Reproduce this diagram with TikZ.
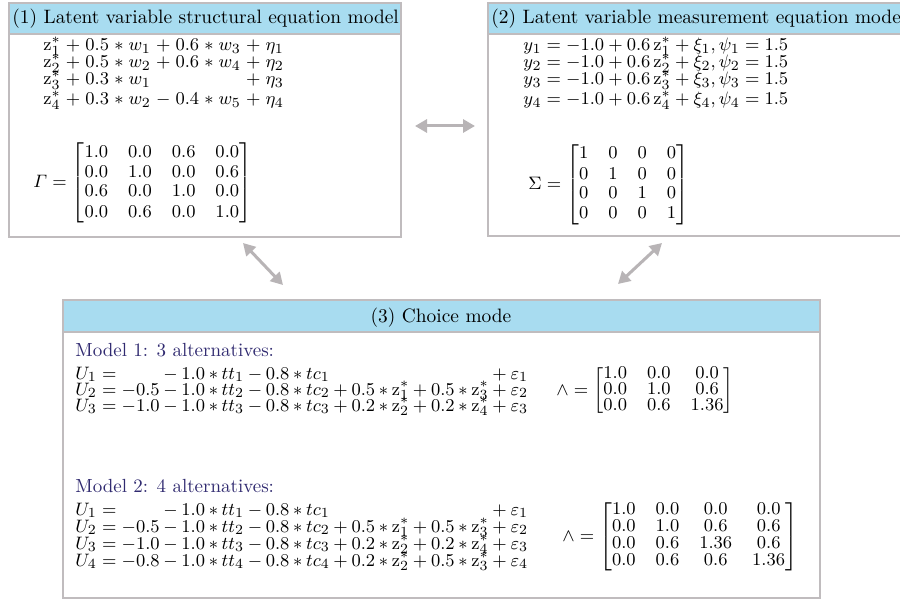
\documentclass[tikz,border=0pt]{standalone}
\usepackage{amsmath, amssymb}
\usepackage[dvipsnames]{xcolor}
\usepackage{tikz}
\usetikzlibrary{arrows.meta}

\definecolor{headblue}{RGB}{168,220,240}
\definecolor{framegray}{RGB}{192,188,190}
\definecolor{arrowgray}{RGB}{184,180,182}
\definecolor{modelblue}{RGB}{48,42,112}

\newcommand{\zs}[1]{\mathrm{z}_{#1}^{*}}
\newcommand{\tightmath}{\medmuskip=3.6mu\relax}
\newcommand{\widemath}{\medmuskip=5mu\relax}

\begin{document}
\begin{tikzpicture}[x=0.5pt, y=-0.5pt,
        panel/.style={draw=framegray, line width=0.7pt},
        head/.style={fill=headblue, draw=framegray, line width=0.7pt},
        txt/.style={inner sep=0pt, anchor=base west, font=\fontsize{9.5}{10}\selectfont},
        title/.style={txt, font=\fontsize{9.7}{10}\selectfont},
        eqn/.style={txt, font=\fontsize{9.5}{10}\selectfont\tightmath},
        seq/.style={txt, font=\fontsize{9.5}{10}\selectfont\widemath},
        mat/.style={txt, anchor=west},
        link/.style={draw=arrowgray, line width=1.5pt, {Triangle[width=6.5pt,length=6pt]}-{Triangle[width=6.5pt,length=6pt]}}]
            \clip (0,0) rectangle (900,599);
            \fill[white] (0,0) rectangle (900,599);

            \draw[panel] (9,3) rectangle (401,237);
            \draw[head] (9,3) rectangle (401,34);
            \draw[panel] (488,3) rectangle (910,236);
            \draw[head] (488,3) rectangle (910,34);
            \draw[panel] (63,300) rectangle (820,598);
            \draw[head] (63,300) rectangle (820,332);

            \node[title] (h1) at (12,24) {(1) Latent variable structural equation model};
            \node[title] (h2) at (491,24) {(2) Latent variable measurement equation model};
            \node[title, anchor=base] (h3) at (441,322) {(3) Choice mode};

            \node[seq] (s1) at (43,51) {$\zs1 + 0.5 \ast w_1 + 0.6 \ast w_3 + \eta_1$};
            \node[seq] (s2) at (43,68) {$\zs2 + 0.5 \ast w_2 + 0.6 \ast w_4 + \eta_2$};
            \node[seq] (s3) at (43,85) {$\zs3 + 0.3 \ast w_1 \phantom{{} + 0.6 \ast w_4} + \eta_3$};
            \node[seq] (s4) at (43,105) {$\zs4 + 0.3 \ast w_2 - 0.4 \ast w_5 + \eta_4$};
            \node[mat] (gam) at (33,183) {$\varGamma = \begin{bmatrix} 1.0 & 0.0 & 0.6 & 0.0\\ 0.0 & 1.0 & 0.0 & 0.6\\ 0.6 & 0.0 & 1.0 & 0.0\\ 0.0 & 0.6 & 0.0 & 1.0 \end{bmatrix}$};

            \node[txt] (y1) at (523,51) {$y_1 = -1.0 + 0.6\,\zs1 + \xi_1, \psi_1 = 1.5$};
            \node[txt] (y2) at (523,68) {$y_2 = -1.0 + 0.6\,\zs2 + \xi_2, \psi_2 = 1.5$};
            \node[txt] (y3) at (523,85) {$y_3 = -1.0 + 0.6\,\zs3 + \xi_3, \psi_3 = 1.5$};
            \node[txt] (y4) at (523,105) {$y_4 = -1.0 + 0.6\,\zs4 + \xi_4, \psi_4 = 1.5$};
            \node[mat] (sig) at (528,185) {$\Sigma = \begin{bmatrix} 1 & 0 & 0 & 0\\ 0 & 1 & 0 & 0\\ 0 & 0 & 1 & 0\\ 0 & 0 & 0 & 1 \end{bmatrix}$};

            \node[txt, text=modelblue] (ma) at (75,356) {Model 1: 3 alternatives:};
            \node[eqn] (a1) at (75,379) {$U_1 = \phantom{-0.5} - 1.0 \ast tt_1 - 0.8 \ast tc_1 \phantom{{} + 0.5 \ast \zs1 + 0.5 \ast \zs3} + \varepsilon_1$};
            \node[eqn] (a2) at (75,395) {$U_2 = -0.5 - 1.0 \ast tt_2 - 0.8 \ast tc_2 + 0.5 \ast \zs1 + 0.5 \ast \zs3 + \varepsilon_2$};
            \node[eqn] (a3) at (75,411) {$U_3 = -1.0 - 1.0 \ast tt_3 - 0.8 \ast tc_3 + 0.2 \ast \zs2 + 0.2 \ast \zs4 + \varepsilon_3$};
            \node[mat] (lam1) at (556,391) {$\wedge = \renewcommand{\arraystretch}{0.8}\begin{bmatrix} 1.0 & 0.0 & 0.0\\ 0.0 & 1.0 & 0.6\\ 0.0 & 0.6 & 1.36 \end{bmatrix}$};

            \node[txt, text=modelblue] (mb) at (75,492) {Model 2: 4 alternatives:};
            \node[eqn] (b1) at (75,515) {$U_1 = \phantom{-0.5} - 1.0 \ast tt_1 - 0.8 \ast tc_1 \phantom{{} + 0.5 \ast \zs1 + 0.5 \ast \zs3} + \varepsilon_1$};
            \node[eqn] (b2) at (75,532) {$U_2 = -0.5 - 1.0 \ast tt_2 - 0.8 \ast tc_2 + 0.5 \ast \zs1 + 0.5 \ast \zs3 + \varepsilon_2$};
            \node[eqn] (b3) at (75,549) {$U_3 = -1.0 - 1.0 \ast tt_3 - 0.8 \ast tc_3 + 0.2 \ast \zs2 + 0.2 \ast \zs4 + \varepsilon_3$};
            \node[eqn] (b4) at (75,566) {$U_4 = -0.8 - 1.0 \ast tt_4 - 0.8 \ast tc_4 + 0.2 \ast \zs2 + 0.5 \ast \zs3 + \varepsilon_4$};
            \node[mat] (lam2) at (562,537) {$\wedge = \renewcommand{\arraystretch}{0.85}\begin{bmatrix} 1.0 & 0.0 & 0.0 & 0.0\\ 0.0 & 1.0 & 0.6 & 0.6\\ 0.0 & 0.6 & 1.36 & 0.6\\ 0.0 & 0.6 & 0.6 & 1.36 \end{bmatrix}$};

            \coordinate (p1) at (415,126);
            \coordinate (p2) at (475,126);
            \coordinate (p3) at (243,243);
            \coordinate (p4) at (283,285);
            \coordinate (p5) at (662,243);
            \coordinate (p6) at (618,284);
            \draw[link] (p1) -- (p2);
            \draw[link] (p3) -- (p4);
            \draw[link] (p5) -- (p6);
        \end{tikzpicture}
\end{document}
